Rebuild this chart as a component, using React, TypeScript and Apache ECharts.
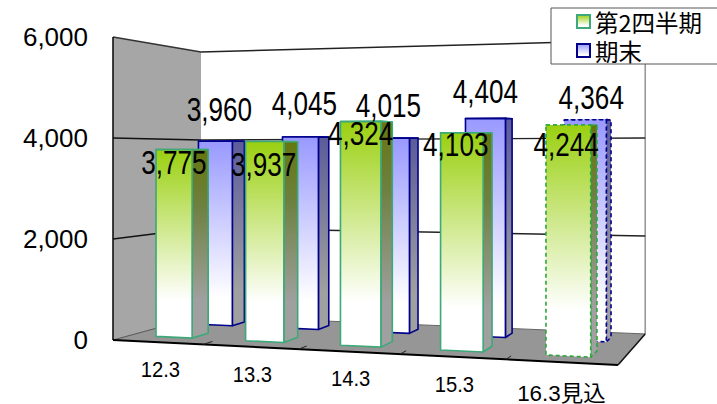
import React, { useEffect, useRef } from "react";
import * as echarts from "echarts";

const categories = ["12.3", "13.3", "14.3", "15.3", "16.3見込"];
const seriesNames = ["第2四半期", "期末"];
const quarterValues = [3775, 3937, 4324, 4103, 4244];
const yearEndValues = [3960, 4045, 4015, 4404, 4364];
const yTicks = [0, 2000, 4000, 6000];

const W = 717, H = 404;
const gridLeft = 113, gridRight = 620, gridTop = 37, gridBottom = 340;
// scene corners of the 3D box (floor) and wall heights
const FL = [113, 340], FR = [620, 365], BL = [201, 316], BR = [647, 334];
const HT = { FL: 303, FR: 340, BL: 264, BR: 294 };
// label nudges relative to the bar they belong to
const quarterLabelNudge = [[0, 13], [-1, 23], [0, 12], [-6, 12], [-2, 19]];
const yearEndLabelNudge = [[4, -32], [4, -34], [-2, -33], [0, -27], [6, -22]];
const categoryNudge = [[3, 27], [2, 27], [2, 27], [2, 27], [0, 31]];
const categoryScale = [0.92, 0.92, 0.92, 0.92, 1.02];

const lerp = (a: number, b: number, k: number) => a + (b - a) * k;
const warp = (t: number) => 0.863 * t + 0.133 * t * t;
const project = (t: number, v: number, h: number) => {
  const u = warp(t);
  const x = lerp(lerp(FL[0], FR[0], u), lerp(BL[0], BR[0], u), v);
  const y = lerp(lerp(FL[1], FR[1], u), lerp(BL[1], BR[1], u), v);
  const ht = lerp(lerp(HT.FL, HT.FR, u), lerp(HT.BL, HT.BR, u), v);
  return [x, y - ht * h];
};
const tOf = (px: number) => (px - gridLeft) / (gridRight - gridLeft);
const hOf = (py: number) => (gridBottom - py) / (gridBottom - gridTop);

const grad = (stops: [number, string][]) =>
  new echarts.graphic.LinearGradient(0, 0, 0, 1, stops.map(([offset, color]) => ({ offset, color })));

const STYLE = {
  green: {
    front: [[0, "#9AD010"], [0.8, "#FFFFFF"], [1, "#FFFFFF"]] as [number, string][],
    side: [[0, "#66760F"], [0.3, "#6E8040"], [0.8, "#A0A0A0"], [1, "#A0A0A0"]] as [number, string][],
    top: "#9AD010", stroke: "#3DA878", dash: "#2EA53C", v1: 0.2, v2: 0.4,
  },
  blue: {
    front: [[0, "#9999FF"], [0.85, "#FFFFFF"], [1, "#FFFFFF"]] as [number, string][],
    side: [[0, "#5B5B9B"], [0.8, "#A0A0A0"], [1, "#A0A0A0"]] as [number, string][],
    top: "#9999FF", stroke: "#00008B", dash: "#00008B", v1: 0.7, v2: 0.85,
  },
};

const barRenderer = (st: typeof STYLE.green) => (params: any, api: any) => {
  const i = api.value(0);
  const val = api.value(1);
  const c = api.coord([i, val]);
  const t = tOf(c[0]);
  const hw = (api.size([1, 0])[0] / (gridRight - gridLeft)) * 0.205;
  const h = hOf(c[1]);
  const t0 = t - hw, t1 = t + hw;
  const dashed = i === categories.length - 1;
  const common = {
    stroke: dashed ? st.dash : st.stroke,
    lineWidth: 1.6,
    lineDash: dashed ? [4, 3] : undefined,
    lineJoin: "round",
  };
  const poly = (points: number[][], fill: any) => ({
    type: "polygon",
    shape: { points },
    style: { fill, ...common },
  });
  return {
    type: "group",
    children: [
      poly([project(t0, st.v1, h), project(t1, st.v1, h), project(t1, st.v2, h), project(t0, st.v2, h)], st.top),
      poly([project(t1, st.v1, h), project(t1, st.v2, h), project(t1, st.v2, 0), project(t1, st.v1, 0)], grad(st.side)),
      poly([project(t0, st.v1, h), project(t1, st.v1, h), project(t1, st.v1, 0), project(t0, st.v1, 0)], grad(st.front)),
    ],
  };
};

const wallRenderer = (params: any, api: any) => {
  const line = (a: number[], b: number[], stroke: string, lineWidth: number) => ({
    type: "line",
    shape: { x1: a[0], y1: a[1], x2: b[0], y2: b[1] },
    style: { stroke, lineWidth },
  });
  const poly = (points: number[][], fill: string) => ({ type: "polygon", shape: { points }, style: { fill } });
  const maxH = hOf(api.coord([0, yTicks[yTicks.length - 1]])[1]);
  const fl = project(0, 0, 0), fr = project(1, 0, 0), bl = project(0, 1, 0), br = project(1, 1, 0);
  const flT = project(0, 0, maxH), blT = project(0, 1, maxH), brT = project(1, 1, maxH);
  const children: any[] = [
    poly([flT, blT, bl, fl], "#A6A6A6"),
    poly([fl, fr, br, bl], "#969696"),
    line(blT, brT, "#222222", 1.5),
    line(flT, blT, "#333333", 1.5),
    line(flT, fl, "#111111", 1.6),
    line(brT, br, "#999999", 1.6),
    line(bl, br, "#666666", 1),
    line(fl, bl, "#555555", 1),
    line(fl, fr, "#000000", 2),
    line(fr, br, "#111111", 1.5),
  ];
  yTicks.slice(1, -1).forEach((tick) => {
    const g = hOf(api.coord([0, tick])[1]);
    children.push(line(project(0, 0, g), project(0, 1, g), "#111111", 1.4));
    children.push(line(project(0, 1, g), project(1, 1, g), "#222222", 1.4));
  });
  categories.forEach((_, i) => {
    const t = i === 0 ? 0 : tOf(api.coord([i, 0])[0]) - api.size([1, 0])[0] / (2 * (gridRight - gridLeft));
    if (i > 0) children.push(line(project(t, 0, 0), project(t, 0.12, 0), "#222222", 1));
  });
  children.push(line(project(1, 0, 0), project(1, 0.12, 0), "#222222", 1));
  return { type: "group", children };
};

const categoryRenderer = (params: any, api: any) => {
  const i = api.value(0);
  const c = api.coord([i, 0]);
  const p = project(tOf(c[0]), 0, 0);
  return {
    type: "text",
    x: p[0] + categoryNudge[i][0],
    y: p[1] + categoryNudge[i][1],
    scaleX: categoryScale[i],
    style: {
      text: categories[i],
      fontSize: 22,
      fontFamily: '"Liberation Sans", "Noto Sans CJK JP", sans-serif',
      fill: "#000",
      align: "center",
      verticalAlign: "middle",
    },
  };
};

const labelRenderer = (st: typeof STYLE.green, nudge: number[][]) => (params: any, api: any) => {
  const i = api.value(0);
  const val = api.value(1);
  const c = api.coord([i, val]);
  const p = project(tOf(c[0]), st.v1, hOf(c[1]));
  return {
    type: "text",
    x: p[0] + nudge[i][0],
    y: p[1] + nudge[i][1],
    scaleX: 0.87,
    scaleY: 1.1,
    style: {
      text: val.toLocaleString("en-US"),
      fontSize: 30,
      fontFamily: '"Liberation Sans", sans-serif',
      fill: "#000",
      align: "center",
      verticalAlign: "middle",
    },
  };
};

const toData = (vals: number[]) => vals.map((v, i) => [i, v]);

export default function App() {
  const ref = useRef<HTMLDivElement>(null);
  useEffect(() => {
    document.body.style.margin = "0";
    const chart = echarts.init(ref.current!, undefined, { renderer: "svg" });
    chart.setOption({
      animation: false,
      backgroundColor: "#FFFFFF",
      grid: { left: gridLeft, right: W - gridRight, top: gridTop, bottom: H - gridBottom },
      xAxis: { type: "category", data: categories, show: false },
      yAxis: {
        type: "value",
        min: 0,
        max: 6000,
        interval: 2000,
        axisLine: { show: false },
        axisTick: { show: false },
        splitLine: { show: false },
        axisLabel: {
          margin: 25,
          fontSize: 26,
          color: "#000",
          fontFamily: '"Liberation Sans", sans-serif',
          formatter: (v: number) => v.toLocaleString("en-US"),
        },
      },
      legend: {
        left: 551,
        top: 8,
        orient: "vertical",
        align: "left",
        padding: [1, 30, 1, 25],
        itemWidth: 13,
        itemHeight: 13,
        itemGap: 4,
        backgroundColor: "#FFFFFF",
        borderColor: "#555555",
        borderWidth: 1,
        textStyle: { fontSize: 23.5, lineHeight: 25, color: "#000", fontFamily: '"Noto Sans CJK JP", sans-serif' },
        data: [
          { name: seriesNames[0], icon: "rect", itemStyle: { color: grad(STYLE.green.front), borderColor: STYLE.green.stroke, borderWidth: 2 } },
          { name: seriesNames[1], icon: "rect", itemStyle: { color: grad(STYLE.blue.front), borderColor: STYLE.blue.stroke, borderWidth: 2 } },
        ],
      },
      series: [
        { type: "custom", name: "walls", renderItem: wallRenderer, data: [[0, 0]], silent: true, z: 1 },
        { type: "custom", name: seriesNames[1], renderItem: barRenderer(STYLE.blue), data: toData(yearEndValues), z: 2 },
        { type: "custom", name: seriesNames[0], renderItem: barRenderer(STYLE.green), data: toData(quarterValues), z: 3 },
        { type: "custom", name: "yearEndLabels", renderItem: labelRenderer(STYLE.blue, yearEndLabelNudge), data: toData(yearEndValues), z: 4 },
        { type: "custom", name: "quarterLabels", renderItem: labelRenderer(STYLE.green, quarterLabelNudge), data: toData(quarterValues), z: 5 },
        { type: "custom", name: "categories", renderItem: categoryRenderer, data: toData(categories.map(() => 0)), z: 4 },
      ],
    });
    return () => chart.dispose();
  }, []);
  return <div ref={ref} style={{ position: "absolute", left: 0, top: 0, width: W, height: H }} />;
}
